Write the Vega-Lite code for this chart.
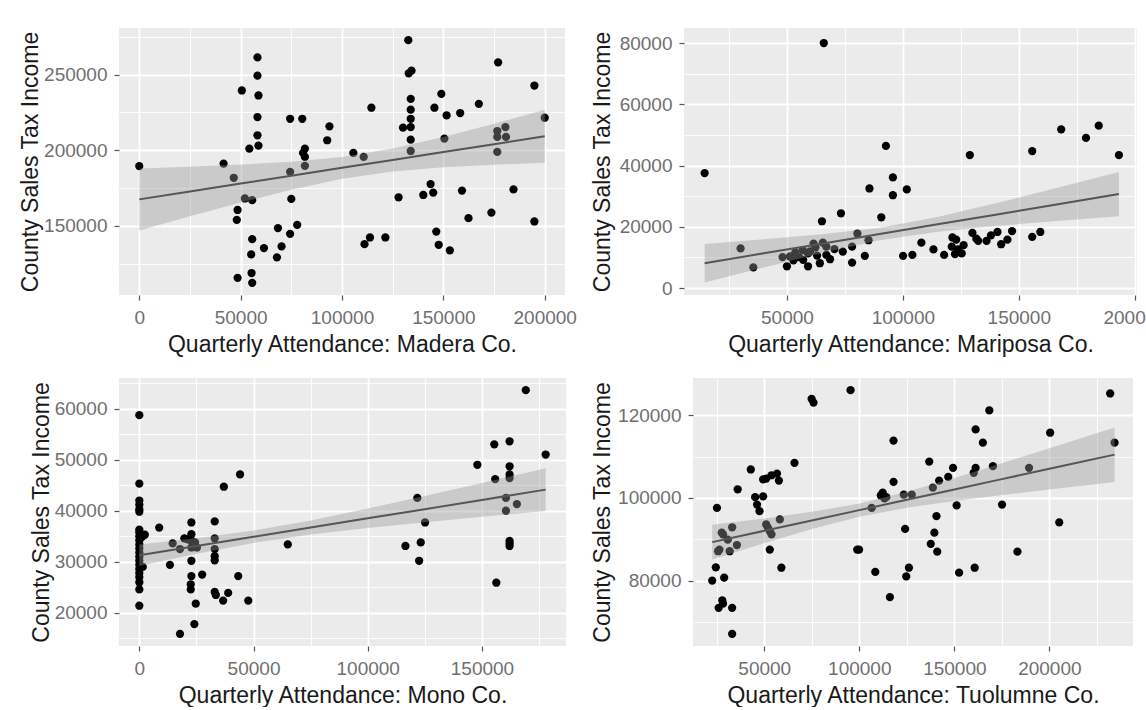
{
  "$schema": "https://vega.github.io/schema/vega-lite/v6.json",
  "background": "white",
  "padding": {"left": 19, "top": 28, "right": 0, "bottom": 0},
  "columns": 2,
  "align": "none",
  "spacing": {"row": 22, "column": 14},
  "datasets": {
    "madera": [
      {"attendance": 0, "income": 189500}, {"attendance": 41600, "income": 191200}, {"attendance": 46600, "income": 181800}, {"attendance": 50600, "income": 239500},
      {"attendance": 48500, "income": 160500}, {"attendance": 48100, "income": 154000}, {"attendance": 48500, "income": 115600}, {"attendance": 54300, "income": 201100},
      {"attendance": 52100, "income": 168100}, {"attendance": 55700, "income": 167000}, {"attendance": 55700, "income": 141200}, {"attendance": 55200, "income": 131100},
      {"attendance": 55400, "income": 118800}, {"attendance": 55700, "income": 112300}, {"attendance": 58300, "income": 261400}, {"attendance": 58300, "income": 249300},
      {"attendance": 58800, "income": 236200}, {"attendance": 58300, "income": 221900}, {"attendance": 58300, "income": 209900}, {"attendance": 58800, "income": 203100},
      {"attendance": 61500, "income": 135300}, {"attendance": 68400, "income": 148500}, {"attendance": 67900, "income": 129200}, {"attendance": 70200, "income": 136400},
      {"attendance": 74400, "income": 220800}, {"attendance": 74400, "income": 185700}, {"attendance": 75000, "income": 167800}, {"attendance": 74400, "income": 144700},
      {"attendance": 77900, "income": 150700}, {"attendance": 80400, "income": 220800}, {"attendance": 81700, "income": 201100}, {"attendance": 81700, "income": 195600},
      {"attendance": 81700, "income": 189700}, {"attendance": 80800, "income": 198200}, {"attendance": 92700, "income": 206600}, {"attendance": 93800, "income": 215800},
      {"attendance": 105600, "income": 198200}, {"attendance": 110700, "income": 195600}, {"attendance": 114500, "income": 228100}, {"attendance": 111100, "income": 137900},
      {"attendance": 113800, "income": 142300}, {"attendance": 121400, "income": 142300}, {"attendance": 127900, "income": 168900}, {"attendance": 130100, "income": 214900},
      {"attendance": 132700, "income": 272800}, {"attendance": 132900, "income": 250900}, {"attendance": 134300, "income": 252600}, {"attendance": 133900, "income": 234000},
      {"attendance": 133900, "income": 226800}, {"attendance": 133900, "income": 220800}, {"attendance": 133900, "income": 215300}, {"attendance": 133900, "income": 207000},
      {"attendance": 133900, "income": 199500}, {"attendance": 140100, "income": 170400}, {"attendance": 143700, "income": 177600}, {"attendance": 145000, "income": 172000},
      {"attendance": 145600, "income": 228100}, {"attendance": 146500, "income": 146200}, {"attendance": 147700, "income": 137500}, {"attendance": 149000, "income": 237300},
      {"attendance": 151600, "income": 223000}, {"attendance": 150500, "income": 207700}, {"attendance": 153200, "income": 133800}, {"attendance": 158300, "income": 224600},
      {"attendance": 159200, "income": 173300}, {"attendance": 162400, "income": 155100}, {"attendance": 167500, "income": 230700}, {"attendance": 173700, "income": 158800},
      {"attendance": 177000, "income": 258100}, {"attendance": 176600, "income": 212700}, {"attendance": 176600, "income": 208800}, {"attendance": 176600, "income": 198900},
      {"attendance": 180600, "income": 215300}, {"attendance": 180900, "income": 208800}, {"attendance": 184600, "income": 174100}, {"attendance": 194900, "income": 242800},
      {"attendance": 194900, "income": 152900}, {"attendance": 200000, "income": 221500}
    ],
    "maderaFit": [
      {"attendance": 0, "fit": 167500, "lo": 147000, "hi": 188000},
      {"attendance": 25000, "fit": 172710, "lo": 156290, "hi": 189130},
      {"attendance": 50000, "fit": 177930, "lo": 165360, "hi": 190500},
      {"attendance": 75000, "fit": 183140, "lo": 173900, "hi": 192380},
      {"attendance": 100000, "fit": 188350, "lo": 181170, "hi": 195540},
      {"attendance": 125000, "fit": 193560, "lo": 186020, "hi": 201100},
      {"attendance": 150000, "fit": 198780, "lo": 188730, "hi": 208830},
      {"attendance": 175000, "fit": 203990, "lo": 190430, "hi": 217560},
      {"attendance": 200000, "fit": 209200, "lo": 191710, "hi": 226690}
    ],
    "mariposa": [
      {"attendance": 14500, "income": 37540}, {"attendance": 30000, "income": 12940}, {"attendance": 35500, "income": 6740}, {"attendance": 65900, "income": 80000},
      {"attendance": 65100, "income": 21800}, {"attendance": 73300, "income": 24400}, {"attendance": 85600, "income": 32500}, {"attendance": 92700, "income": 46400},
      {"attendance": 95700, "income": 36100}, {"attendance": 95700, "income": 30300}, {"attendance": 90700, "income": 23100}, {"attendance": 101700, "income": 32200},
      {"attendance": 80400, "income": 17800}, {"attendance": 85200, "income": 15600}, {"attendance": 83600, "income": 10500}, {"attendance": 78100, "income": 8300},
      {"attendance": 78100, "income": 13500}, {"attendance": 74100, "income": 11900}, {"attendance": 68600, "income": 9400}, {"attendance": 67000, "income": 10800},
      {"attendance": 64200, "income": 8100}, {"attendance": 67000, "income": 13500}, {"attendance": 65500, "income": 14800}, {"attendance": 62300, "income": 13300},
      {"attendance": 61500, "income": 14500}, {"attendance": 59100, "income": 7100}, {"attendance": 59100, "income": 11300}, {"attendance": 56800, "income": 12400},
      {"attendance": 55200, "income": 10100}, {"attendance": 52800, "income": 9000}, {"attendance": 51300, "income": 10300}, {"attendance": 50000, "income": 7100},
      {"attendance": 48100, "income": 10100}, {"attendance": 53600, "income": 11600}, {"attendance": 57000, "income": 9200}, {"attendance": 63000, "income": 10600},
      {"attendance": 70500, "income": 12700}, {"attendance": 60000, "income": 12000},
      {"attendance": 100100, "income": 10500}, {"attendance": 104100, "income": 10800}, {"attendance": 108000, "income": 14800}, {"attendance": 113200, "income": 12600},
      {"attendance": 117800, "income": 10800}, {"attendance": 121400, "income": 16500}, {"attendance": 121100, "income": 13500}, {"attendance": 123000, "income": 15800},
      {"attendance": 123800, "income": 12600}, {"attendance": 122500, "income": 11100}, {"attendance": 125400, "income": 11300}, {"attendance": 126200, "income": 14000},
      {"attendance": 128900, "income": 43400}, {"attendance": 130000, "income": 18000}, {"attendance": 131700, "income": 16100}, {"attendance": 132500, "income": 15400},
      {"attendance": 136100, "income": 15400}, {"attendance": 138000, "income": 17200}, {"attendance": 140800, "income": 18300}, {"attendance": 142400, "income": 14300},
      {"attendance": 145100, "income": 15800}, {"attendance": 147100, "income": 18600}, {"attendance": 155800, "income": 44700}, {"attendance": 155800, "income": 16700},
      {"attendance": 159300, "income": 18300}, {"attendance": 168300, "income": 51800}, {"attendance": 179000, "income": 49000}, {"attendance": 184500, "income": 53000},
      {"attendance": 193200, "income": 43400}
    ],
    "mariposaFit": [
      {"attendance": 14500, "fit": 8100, "lo": 1800, "hi": 14400},
      {"attendance": 40000, "fit": 11320, "lo": 6730, "hi": 15910},
      {"attendance": 65000, "fit": 14480, "lo": 11420, "hi": 17550},
      {"attendance": 90000, "fit": 17640, "lo": 15580, "hi": 19710},
      {"attendance": 115000, "fit": 20790, "lo": 18410, "hi": 23170},
      {"attendance": 140000, "fit": 23950, "lo": 20260, "hi": 27640},
      {"attendance": 165000, "fit": 27110, "lo": 21810, "hi": 32410},
      {"attendance": 193200, "fit": 30670, "lo": 23430, "hi": 37890}
    ],
    "mono": [
      {"attendance": 0, "income": 58700}, {"attendance": 0, "income": 45300}, {"attendance": 0, "income": 42000}, {"attendance": 0, "income": 41200},
      {"attendance": 0, "income": 40300}, {"attendance": 0, "income": 39800}, {"attendance": 0, "income": 36300}, {"attendance": 0, "income": 35800},
      {"attendance": 0, "income": 35000}, {"attendance": 0, "income": 34200}, {"attendance": 0, "income": 33400}, {"attendance": 0, "income": 32600},
      {"attendance": 0, "income": 31800}, {"attendance": 0, "income": 31000}, {"attendance": 0, "income": 30200}, {"attendance": 0, "income": 29400},
      {"attendance": 0, "income": 28600}, {"attendance": 0, "income": 27800}, {"attendance": 0, "income": 27000}, {"attendance": 0, "income": 26000},
      {"attendance": 0, "income": 24600}, {"attendance": 0, "income": 21400}, {"attendance": 1200, "income": 34900}, {"attendance": 2400, "income": 35300},
      {"attendance": 1500, "income": 29000}, {"attendance": 8700, "income": 36700}, {"attendance": 13400, "income": 29400}, {"attendance": 14600, "income": 33600},
      {"attendance": 17800, "income": 32500}, {"attendance": 17800, "income": 15900}, {"attendance": 19700, "income": 34600}, {"attendance": 21200, "income": 34400},
      {"attendance": 22800, "income": 37700}, {"attendance": 22800, "income": 35400}, {"attendance": 22800, "income": 34100}, {"attendance": 22800, "income": 32800},
      {"attendance": 22800, "income": 30200}, {"attendance": 22800, "income": 27200}, {"attendance": 22500, "income": 25600}, {"attendance": 22500, "income": 24600},
      {"attendance": 24400, "income": 33800}, {"attendance": 24700, "income": 21800}, {"attendance": 24100, "income": 17800}, {"attendance": 25200, "income": 32800},
      {"attendance": 27500, "income": 27500}, {"attendance": 33000, "income": 37900}, {"attendance": 33000, "income": 34600}, {"attendance": 33000, "income": 32500},
      {"attendance": 33000, "income": 31100}, {"attendance": 33000, "income": 30300}, {"attendance": 33000, "income": 24100}, {"attendance": 33500, "income": 23500},
      {"attendance": 36700, "income": 22400}, {"attendance": 37000, "income": 44700}, {"attendance": 38900, "income": 23900}, {"attendance": 43300, "income": 27200},
      {"attendance": 44100, "income": 47100}, {"attendance": 47700, "income": 22400}, {"attendance": 65000, "income": 33400}, {"attendance": 116500, "income": 33100},
      {"attendance": 121700, "income": 42500}, {"attendance": 123200, "income": 33800}, {"attendance": 122500, "income": 30200}, {"attendance": 125100, "income": 37700},
      {"attendance": 148000, "income": 49000}, {"attendance": 155400, "income": 53000}, {"attendance": 155800, "income": 46200}, {"attendance": 156300, "income": 25900},
      {"attendance": 160500, "income": 42500}, {"attendance": 160500, "income": 40000}, {"attendance": 162100, "income": 53600}, {"attendance": 162100, "income": 48700},
      {"attendance": 162100, "income": 47100}, {"attendance": 162100, "income": 46400}, {"attendance": 162100, "income": 34100}, {"attendance": 162100, "income": 33100},
      {"attendance": 162100, "income": 33600}, {"attendance": 165300, "income": 41300}, {"attendance": 169200, "income": 63600}, {"attendance": 177900, "income": 51000}
    ],
    "monoFit": [
      {"attendance": 0, "fit": 31300, "lo": 29200, "hi": 33400},
      {"attendance": 25000, "fit": 33100, "lo": 31590, "hi": 34610},
      {"attendance": 50000, "fit": 34900, "lo": 33700, "hi": 36110},
      {"attendance": 75000, "fit": 36710, "lo": 35330, "hi": 38090},
      {"attendance": 100000, "fit": 38510, "lo": 36600, "hi": 40430},
      {"attendance": 125000, "fit": 40310, "lo": 37720, "hi": 42900},
      {"attendance": 150000, "fit": 42120, "lo": 38800, "hi": 45440},
      {"attendance": 177900, "fit": 44130, "lo": 39960, "hi": 48300}
    ],
    "tuolumne": [
      {"attendance": 22600, "income": 80000}, {"attendance": 24500, "income": 83200}, {"attendance": 25100, "income": 97600}, {"attendance": 25700, "income": 87100},
      {"attendance": 26400, "income": 87500}, {"attendance": 27600, "income": 91600}, {"attendance": 28300, "income": 91200}, {"attendance": 28900, "income": 80700},
      {"attendance": 26000, "income": 73400}, {"attendance": 27900, "income": 75200}, {"attendance": 28300, "income": 74400}, {"attendance": 31800, "income": 87100},
      {"attendance": 30800, "income": 89900}, {"attendance": 33100, "income": 73400}, {"attendance": 33100, "income": 67100}, {"attendance": 33100, "income": 92900},
      {"attendance": 35600, "income": 88600}, {"attendance": 36000, "income": 102100}, {"attendance": 42900, "income": 106900}, {"attendance": 45200, "income": 100200},
      {"attendance": 46200, "income": 98400}, {"attendance": 47500, "income": 96800}, {"attendance": 49400, "income": 100400}, {"attendance": 49400, "income": 104500},
      {"attendance": 51000, "income": 104700}, {"attendance": 51000, "income": 93600}, {"attendance": 51900, "income": 92800}, {"attendance": 52900, "income": 92000},
      {"attendance": 53800, "income": 91200}, {"attendance": 52900, "income": 87500}, {"attendance": 53800, "income": 105500}, {"attendance": 56700, "income": 105900},
      {"attendance": 57700, "income": 104200}, {"attendance": 58200, "income": 94800}, {"attendance": 59000, "income": 83100}, {"attendance": 65900, "income": 108500},
      {"attendance": 74900, "income": 124000}, {"attendance": 75900, "income": 123100}, {"attendance": 95400, "income": 126100}, {"attendance": 98900, "income": 87500},
      {"attendance": 99900, "income": 87500}, {"attendance": 106500, "income": 97600}, {"attendance": 108400, "income": 82100}, {"attendance": 111300, "income": 100600},
      {"attendance": 112300, "income": 101300}, {"attendance": 113200, "income": 99900}, {"attendance": 114200, "income": 100200}, {"attendance": 116100, "income": 76000},
      {"attendance": 118000, "income": 113900}, {"attendance": 118000, "income": 103900}, {"attendance": 123400, "income": 100800}, {"attendance": 124100, "income": 92500},
      {"attendance": 124700, "income": 81000}, {"attendance": 126100, "income": 83100}, {"attendance": 127600, "income": 100800}, {"attendance": 136800, "income": 108800},
      {"attendance": 137600, "income": 88900}, {"attendance": 138700, "income": 102500}, {"attendance": 139500, "income": 91600}, {"attendance": 140600, "income": 95600},
      {"attendance": 141000, "income": 87000}, {"attendance": 142000, "income": 104200}, {"attendance": 146800, "income": 105100}, {"attendance": 149300, "income": 107300},
      {"attendance": 151200, "income": 98200}, {"attendance": 152500, "income": 81900}, {"attendance": 160200, "income": 106100}, {"attendance": 161200, "income": 107300},
      {"attendance": 161200, "income": 116600}, {"attendance": 160700, "income": 83100}, {"attendance": 165000, "income": 113400}, {"attendance": 168400, "income": 121200},
      {"attendance": 170300, "income": 107700}, {"attendance": 175100, "income": 98400}, {"attendance": 183200, "income": 87000}, {"attendance": 189300, "income": 107300},
      {"attendance": 200400, "income": 115800}, {"attendance": 205200, "income": 94100}, {"attendance": 232000, "income": 125300}, {"attendance": 234300, "income": 113400}
    ],
    "tuolumneFit": [
      {"attendance": 22600, "fit": 89300, "lo": 85100, "hi": 93500},
      {"attendance": 50000, "fit": 92040, "lo": 89030, "hi": 95050},
      {"attendance": 75000, "fit": 94550, "lo": 92460, "hi": 96640},
      {"attendance": 100000, "fit": 97050, "lo": 95450, "hi": 98660},
      {"attendance": 125000, "fit": 99550, "lo": 97620, "hi": 101480},
      {"attendance": 150000, "fit": 102060, "lo": 99260, "hi": 104860},
      {"attendance": 175000, "fit": 104560, "lo": 100700, "hi": 108420},
      {"attendance": 200000, "fit": 107060, "lo": 102070, "hi": 112050},
      {"attendance": 234300, "fit": 110490, "lo": 103890, "hi": 117090}
    ]
  },
  "concat": [
    {
      "width": 446, "height": 267,
      "layer": [
        {"data": {"name": "madera"}, "mark": {"type": "circle", "size": 68, "color": "#000000", "opacity": 1},
         "encoding": {
           "x": {"field": "attendance", "type": "quantitative", "title": "Quarterly Attendance: Madera Co.", "scale": {"domain": [-10000, 210000], "nice": false, "zero": false},
                 "axis": {"values": [0, 25000, 50000, 75000, 100000, 125000, 150000, 175000, 200000], "tickCount": 100, "format": "d",
                          "labelFontSize": {"condition": {"test": "datum.value % 50000 === 0", "value": 19}, "value": 0},
                          "gridWidth": {"condition": {"test": "datum.value % 50000 === 0", "value": 1.8}, "value": 0.9},
                          "tickOpacity": {"condition": {"test": "datum.value % 50000 === 0", "value": 1}, "value": 0}}},
           "y": {"field": "income", "type": "quantitative", "title": "County Sales Tax Income", "scale": {"domain": [104275, 280825], "nice": false, "zero": false},
                 "axis": {"values": [125000, 150000, 175000, 200000, 225000, 250000, 275000], "tickCount": 100, "format": "d", "titlePadding": 1,
                          "labelFontSize": {"condition": {"test": "datum.value % 50000 === 0", "value": 19}, "value": 0},
                          "gridWidth": {"condition": {"test": "datum.value % 50000 === 0", "value": 1.8}, "value": 0.9},
                          "tickOpacity": {"condition": {"test": "datum.value % 50000 === 0", "value": 1}, "value": 0}}}
         }},
        {"data": {"name": "maderaFit"}, "mark": {"type": "area", "color": "#999999", "opacity": 0.4},
         "encoding": {"x": {"field": "attendance", "type": "quantitative", "title": "Quarterly Attendance: Madera Co."},
                      "y": {"field": "lo", "type": "quantitative", "title": "County Sales Tax Income"}, "y2": {"field": "hi"}}},
        {"data": {"name": "maderaFit"}, "mark": {"type": "line", "color": "#555555", "strokeWidth": 2},
         "encoding": {"x": {"field": "attendance", "type": "quantitative", "title": "Quarterly Attendance: Madera Co."},
                      "y": {"field": "fit", "type": "quantitative", "title": "County Sales Tax Income"}}}
      ]
    },
    {
      "width": 453, "height": 267,
      "layer": [
        {"data": {"name": "mariposa"}, "mark": {"type": "circle", "size": 68, "color": "#000000", "opacity": 1},
         "encoding": {
           "x": {"field": "attendance", "type": "quantitative", "title": "Quarterly Attendance: Mariposa Co.", "scale": {"domain": [5600, 201000], "nice": false, "zero": false},
                 "axis": {"values": [25000, 50000, 75000, 100000, 125000, 150000, 175000, 200000], "tickCount": 100, "format": "d",
                          "labelFontSize": {"condition": {"test": "datum.value % 50000 === 0", "value": 19}, "value": 0},
                          "gridWidth": {"condition": {"test": "datum.value % 50000 === 0", "value": 1.8}, "value": 0.9},
                          "tickOpacity": {"condition": {"test": "datum.value % 50000 === 0", "value": 1}, "value": 0}}},
           "y": {"field": "income", "type": "quantitative", "title": "County Sales Tax Income", "scale": {"domain": [-2280, 84900], "nice": false, "zero": false},
                 "axis": {"values": [0, 10000, 20000, 30000, 40000, 50000, 60000, 70000, 80000], "tickCount": 100, "format": "d", "titlePadding": 5,
                          "labelFontSize": {"condition": {"test": "datum.value % 20000 === 0", "value": 19}, "value": 0},
                          "gridWidth": {"condition": {"test": "datum.value % 20000 === 0", "value": 1.8}, "value": 0.9},
                          "tickOpacity": {"condition": {"test": "datum.value % 20000 === 0", "value": 1}, "value": 0}}}
         }},
        {"data": {"name": "mariposaFit"}, "mark": {"type": "area", "color": "#999999", "opacity": 0.4},
         "encoding": {"x": {"field": "attendance", "type": "quantitative", "title": "Quarterly Attendance: Mariposa Co."},
                      "y": {"field": "lo", "type": "quantitative", "title": "County Sales Tax Income"}, "y2": {"field": "hi"}}},
        {"data": {"name": "mariposaFit"}, "mark": {"type": "line", "color": "#555555", "strokeWidth": 2},
         "encoding": {"x": {"field": "attendance", "type": "quantitative", "title": "Quarterly Attendance: Mariposa Co."},
                      "y": {"field": "fit", "type": "quantitative", "title": "County Sales Tax Income"}}}
      ]
    },
    {
      "width": 447, "height": 268,
      "layer": [
        {"data": {"name": "mono"}, "mark": {"type": "circle", "size": 68, "color": "#000000", "opacity": 1},
         "encoding": {
           "x": {"field": "attendance", "type": "quantitative", "title": "Quarterly Attendance: Mono Co.", "scale": {"domain": [-8900, 186800], "nice": false, "zero": false},
                 "axis": {"values": [0, 25000, 50000, 75000, 100000, 125000, 150000, 175000], "tickCount": 100, "format": "d",
                          "labelFontSize": {"condition": {"test": "datum.value % 50000 === 0", "value": 19}, "value": 0},
                          "gridWidth": {"condition": {"test": "datum.value % 50000 === 0", "value": 1.8}, "value": 0.9},
                          "tickOpacity": {"condition": {"test": "datum.value % 50000 === 0", "value": 1}, "value": 0}}},
           "y": {"field": "income", "type": "quantitative", "title": "County Sales Tax Income", "scale": {"domain": [13515, 65985], "nice": false, "zero": false},
                 "axis": {"values": [15000, 20000, 25000, 30000, 35000, 40000, 45000, 50000, 55000, 60000, 65000], "tickCount": 100, "format": "d", "titlePadding": 1,
                          "labelFontSize": {"condition": {"test": "datum.value % 10000 === 0", "value": 19}, "value": 0},
                          "gridWidth": {"condition": {"test": "datum.value % 10000 === 0", "value": 1.8}, "value": 0.9},
                          "tickOpacity": {"condition": {"test": "datum.value % 10000 === 0", "value": 1}, "value": 0}}}
         }},
        {"data": {"name": "monoFit"}, "mark": {"type": "area", "color": "#999999", "opacity": 0.4},
         "encoding": {"x": {"field": "attendance", "type": "quantitative", "title": "Quarterly Attendance: Mono Co."},
                      "y": {"field": "lo", "type": "quantitative", "title": "County Sales Tax Income"}, "y2": {"field": "hi"}}},
        {"data": {"name": "monoFit"}, "mark": {"type": "line", "color": "#555555", "strokeWidth": 2},
         "encoding": {"x": {"field": "attendance", "type": "quantitative", "title": "Quarterly Attendance: Mono Co."},
                      "y": {"field": "fit", "type": "quantitative", "title": "County Sales Tax Income"}}}
      ]
    },
    {
      "width": 440, "height": 268,
      "layer": [
        {"data": {"name": "tuolumne"}, "mark": {"type": "circle", "size": 68, "color": "#000000", "opacity": 1},
         "encoding": {
           "x": {"field": "attendance", "type": "quantitative", "title": "Quarterly Attendance: Tuolumne Co.", "scale": {"domain": [12500, 244000], "nice": false, "zero": false},
                 "axis": {"values": [25000, 50000, 75000, 100000, 125000, 150000, 175000, 200000, 225000], "tickCount": 100, "format": "d",
                          "labelFontSize": {"condition": {"test": "datum.value % 50000 === 0", "value": 19}, "value": 0},
                          "gridWidth": {"condition": {"test": "datum.value % 50000 === 0", "value": 1.8}, "value": 0.9},
                          "tickOpacity": {"condition": {"test": "datum.value % 50000 === 0", "value": 1}, "value": 0}}},
           "y": {"field": "income", "type": "quantitative", "title": "County Sales Tax Income", "scale": {"domain": [64150, 129050], "nice": false, "zero": false},
                 "axis": {"values": [70000, 80000, 90000, 100000, 110000, 120000], "tickCount": 100, "format": "d", "titlePadding": 3,
                          "labelFontSize": {"condition": {"test": "datum.value % 20000 === 0", "value": 19}, "value": 0},
                          "gridWidth": {"condition": {"test": "datum.value % 20000 === 0", "value": 1.8}, "value": 0.9},
                          "tickOpacity": {"condition": {"test": "datum.value % 20000 === 0", "value": 1}, "value": 0}}}
         }},
        {"data": {"name": "tuolumneFit"}, "mark": {"type": "area", "color": "#999999", "opacity": 0.4},
         "encoding": {"x": {"field": "attendance", "type": "quantitative", "title": "Quarterly Attendance: Tuolumne Co."},
                      "y": {"field": "lo", "type": "quantitative", "title": "County Sales Tax Income"}, "y2": {"field": "hi"}}},
        {"data": {"name": "tuolumneFit"}, "mark": {"type": "line", "color": "#555555", "strokeWidth": 2},
         "encoding": {"x": {"field": "attendance", "type": "quantitative", "title": "Quarterly Attendance: Tuolumne Co."},
                      "y": {"field": "fit", "type": "quantitative", "title": "County Sales Tax Income"}}}
      ]
    }
  ],
  "config": {
    "font": "Liberation Sans",
    "view": {"fill": "#ebebeb", "stroke": null},
    "axis": {
      "domain": false,
      "grid": true,
      "gridColor": "#ffffff",
      "labelFont": "Liberation Sans",
      "labelFontSize": 19,
      "labelColor": "#707070",
      "labelOverlap": false,
      "labelFlush": false,
      "labelPadding": 7,
      "tickColor": "#555555",
      "tickSize": 5,
      "tickWidth": 1.2,
      "titleFont": "Liberation Sans",
      "titleFontSize": 23,
      "titleFontWeight": "normal",
      "titleColor": "#1a1a1a"
    },
    "axisX": {"labelPadding": 8, "titlePadding": 6}
  }
}
